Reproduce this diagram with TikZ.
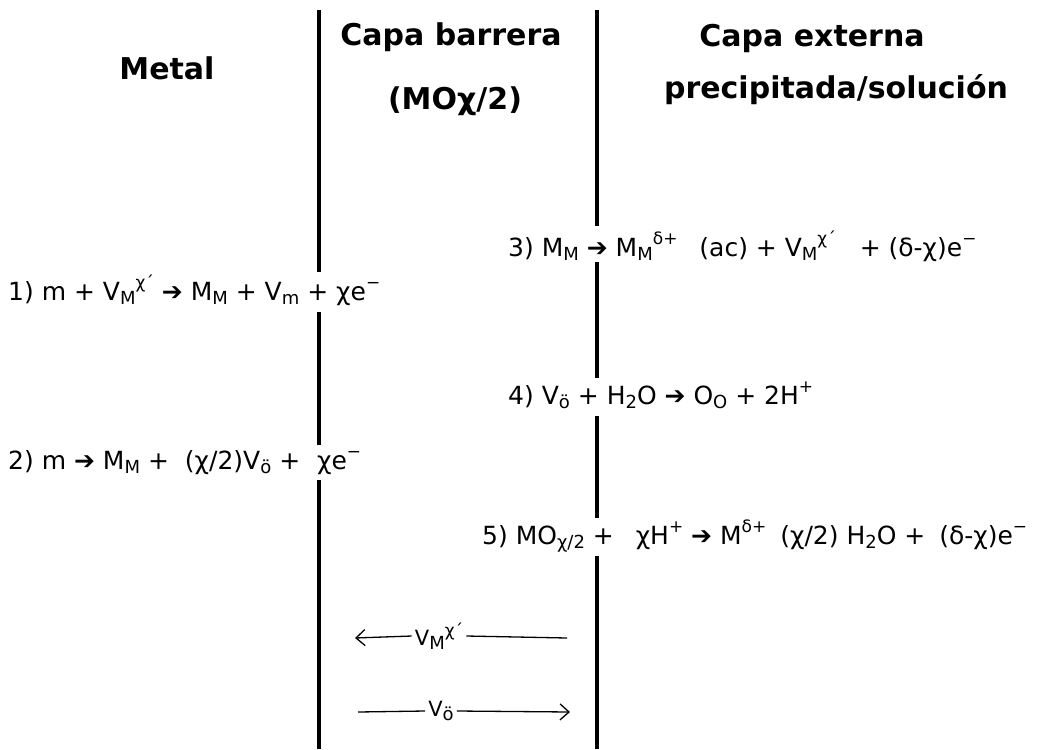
\documentclass[tikz,border=0pt]{standalone}
\usepackage{fontspec}
\setmainfont{DejaVu Sans}
\usetikzlibrary{arrows.meta}
\newcommand{\sbx}[1]{\raisebox{-0.3ex}{\fontsize{18}{18}\selectfont #1}}
\newcommand{\spx}[1]{\raisebox{0.85ex}{\fontsize{17}{17}\selectfont #1}}
\newcommand{\ch}{χ}
\newcommand{\rarr}{➔}
\tikzset{
  wall/.style={line width=4.8pt},
  eq/.style={anchor=base west, inner sep=0pt, font=\fontsize{25}{28}\selectfont},
  head/.style={anchor=base, inner sep=0pt, font=\fontsize{30}{34}\selectfont\bfseries},
  flow/.style={line width=1.3pt, -{Straight Barb[length=9pt,width=16pt]}},
  plain/.style={line width=1.3pt},
  lab/.style={inner sep=3pt, font=\fontsize{21}{23}\selectfont}
}
\begin{document}
\begin{tikzpicture}[x=1pt,y=-1pt]
\useasboundingbox (0,0) rectangle (1040,749);
\fill[white] (0,0) rectangle (1040,749);
% headers
\node[head] (metal) at (167,80) {Metal};
\node[head] (cb1) at (451,46) {Capa barrera};
\node[head] (cb2) at (455,110) {(MO\ch/2)};
\node[head] (ce1) at (812,47) {Capa externa};
\node[head] (ce2) at (836,99) {precipitada/solución};
% walls
\coordinate (L0) at (319,10); \coordinate (L1) at (319,272);
\coordinate (L2) at (319,312); \coordinate (L3) at (319,445);
\coordinate (L4) at (319,480); \coordinate (L5) at (319,749);
\coordinate (R0) at (597,10); \coordinate (R1) at (597,226);
\coordinate (R2) at (597,262); \coordinate (R3) at (597,378);
\coordinate (R4) at (597,416); \coordinate (R5) at (597,518);
\coordinate (R6) at (597,556); \coordinate (R7) at (597,749);
\draw[wall] (L0) -- (L1); \draw[wall] (L2) -- (L3); \draw[wall] (L4) -- (L5);
\draw[wall] (R0) -- (R1); \draw[wall] (R2) -- (R3); \draw[wall] (R4) -- (R5); \draw[wall] (R6) -- (R7);
% equations
\node[eq] (e1) at (8,300) {1) m + V\sbx{M}\spx{\ch´} \rarr\ M\sbx{M} + V\sbx{m} + \ch e\spx{−}};
\node[eq] (e2) at (8,469) {2) m \rarr\ M\sbx{M} +\hspace{8pt} (\ch/2)V\sbx{ö} +\hspace{9pt} \ch e\spx{−}};
\node[eq] (e3) at (508,256) {3) M\sbx{M} \rarr\ M\sbx{M}\spx{δ+}\hspace{14pt} (ac) + V\sbx{M}\spx{\ch´}\hspace{16pt} + (δ-\ch)e\spx{−}};
\node[eq] (e4) at (508,404) {4) V\sbx{ö} + H\sbx{2}O \rarr\ O\sbx{O} + 2H\spx{+}};
\node[eq] (e5) at (482,544) {5) MO\sbx{\ch/2} +\hspace{14pt} \ch H\spx{+} \rarr\ M\spx{δ+}\hspace{6pt} (\ch/2) H\sbx{2}O + \hspace{6pt}(δ-\ch)e\spx{−}};
% flux arrows
\coordinate (a1s) at (567,638); \coordinate (a1e) at (355,638);
\coordinate (a2s) at (358,712); \coordinate (a2e) at (570,712);
\node[lab, fill=white] (vm) at (439,636) {V\sbx{M}\spx{\ch´}};
\node[lab, fill=white] (vo) at (441,711) {V\sbx{ö}};
\draw[plain] (a1s) -- (vm.east);
\draw[flow] (vm.west) -- (a1e);
\draw[plain] (a2s) -- (vo.west);
\draw[flow] (vo.east) -- (a2e);
\end{tikzpicture}
\end{document}
